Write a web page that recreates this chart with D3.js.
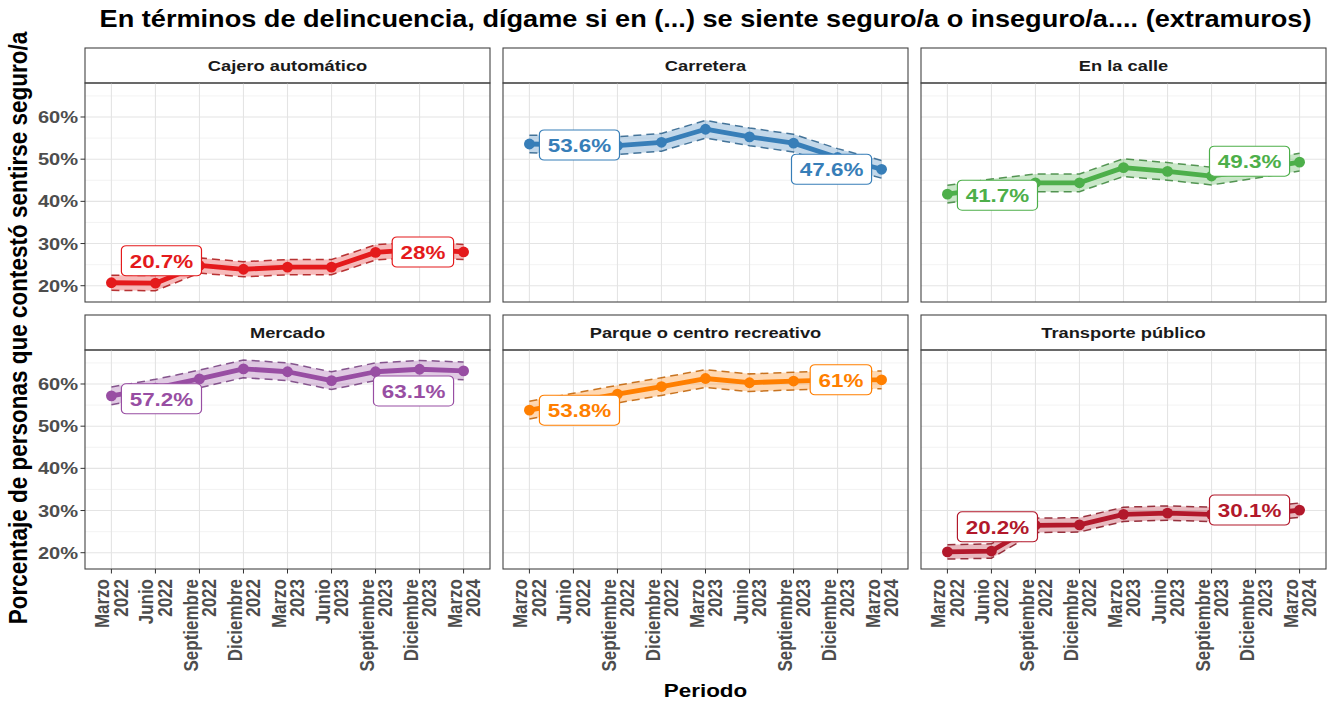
<!DOCTYPE html>
<html>
<head>
<meta charset="utf-8">
<script src="https://cdn.jsdelivr.net/npm/d3@7"></script>
<style>
  body { margin: 0; background: #fff; }
  svg { display: block; }
  text { font-family: "Liberation Sans", Arial, Helvetica, sans-serif; font-weight: bold; }
</style>
</head>
<body>
<svg id="chart" width="1327" height="704"></svg>
<script>
// Survey periods (quarterly)
const months = ["Marzo", "Junio", "Septiembre", "Diciembre", "Marzo", "Junio", "Septiembre", "Diciembre", "Marzo"];
const years  = ["2022", "2022", "2022", "2022", "2023", "2023", "2023", "2023", "2024"];

// Places asked about
const places = ["Cajero automático", "Carretera", "En la calle", "Mercado", "Parque o centro recreativo", "Transporte público"];

// Percentage answering "seguro/a" per period
const cajero     = [20.7, 20.6, 24.8, 23.9, 24.4, 24.4, 27.9, 28.6, 28.0];
const carretera  = [53.6, 53.4, 53.2, 54.0, 57.1, 55.3, 53.8, 50.4, 47.6];
const calle      = [41.7, 43.2, 44.4, 44.4, 48.0, 47.1, 46.0, 47.6, 49.3];
const mercado    = [57.2, 59.0, 61.2, 63.6, 62.9, 60.8, 62.9, 63.5, 63.1];
const parque     = [53.8, 55.7, 57.6, 59.4, 61.3, 60.3, 60.7, 61.0, 61.0];
const transporte = [20.2, 20.4, 26.5, 26.6, 29.1, 29.4, 29.1, 29.0, 30.1];

// Margin of error (percentage points) of each place's estimates
const moe = [1.8, 2.1, 2.1, 2.1, 2.1, 1.7];

const yTicks = [20, 30, 40, 50, 60];
const yMinor = [25, 35, 45, 55, 65];

const colors = ["#E41A1C", "#377EB8", "#4DAF4A", "#984EA3", "#FF7F00", "#B2182B"];

const series = [cajero, carretera, calle, mercado, parque, transporte];
const periods = months.map((m, i) => m + " " + years[i]);

// ---- layout ----
const W = 1327, H = 704;
const SX = 1.18;                 // horizontal text stretch
const mLeft = 85, mRight = 1, gapX = 13;
const mTop = 48, stripH = 35, plotH = 219, gapY = 13;
const panelW = (W - mLeft - mRight - 2 * gapX) / 3;

// label nudges (px): [first label dy, last label dy]
const labelNudge = [[-22, 0], [1, 0], [1, -1], [3, 20], [0, 0], [-25, 0]];

const svg = d3.select("#chart");

// shared scales
const lows  = series.flatMap((s, i) => s.map(v => v - moe[i]));
const highs = series.flatMap((s, i) => s.map(v => v + moe[i]));
const lo = d3.min(lows), hi = d3.max(highs), pad = (hi - lo) * 0.05;
const y = d3.scaleLinear().domain([lo - pad, hi + pad]).range([plotH, 0]);
const x = d3.scalePoint().domain(periods).range([0, panelW]).padding(0.6);

function sText(parent, tx, ty, str, opts = {}) {
  const g = parent.append("g")
    .attr("transform", `translate(${tx},${ty}) scale(${SX},1)` + (opts.rotate ? " rotate(-90)" : ""));
  const t = g.append("text")
    .attr("text-anchor", opts.anchor || "middle")
    .attr("font-size", opts.size || 16)
    .attr("fill", opts.color || "#000");
  if (opts.dy) t.attr("dy", opts.dy);
  t.text(str);
  return { g, t };
}

const pct = v => (Math.round(v * 10) / 10) + "%";

places.forEach((place, i) => {
  const col = i % 3, row = Math.floor(i / 3);
  const px0 = mLeft + col * (panelW + gapX);
  const sy0 = mTop + row * (stripH + plotH + gapY);
  const py0 = sy0 + stripH;
  const color = colors[i];
  const vals = series[i];
  const m = moe[i];

  // strip
  svg.append("rect").attr("x", px0).attr("y", sy0).attr("width", panelW).attr("height", stripH)
    .attr("fill", "#fff").attr("stroke", "#444").attr("stroke-width", 1.1);
  sText(svg, px0 + panelW / 2, sy0 + stripH / 2, place, { size: 15.5, color: "#1a1a1a", dy: "0.36em" });

  const g = svg.append("g").attr("transform", `translate(${px0},${py0})`);

  // grid
  g.selectAll(".ymin").data(yMinor.filter(v => v >= y.domain()[0] && v <= y.domain()[1])).join("line")
    .attr("x1", 0).attr("x2", panelW).attr("y1", d => y(d)).attr("y2", d => y(d))
    .attr("stroke", "#f0f0f0").attr("stroke-width", 0.8);
  g.selectAll(".ymaj").data(yTicks).join("line")
    .attr("x1", 0).attr("x2", panelW).attr("y1", d => y(d)).attr("y2", d => y(d))
    .attr("stroke", "#e4e4e4").attr("stroke-width", 1.1);
  g.selectAll(".xmaj").data(periods).join("line")
    .attr("x1", d => x(d)).attr("x2", d => x(d)).attr("y1", 0).attr("y2", plotH)
    .attr("stroke", "#e4e4e4").attr("stroke-width", 1.1);

  const pts = vals.map((v, j) => ({ p: periods[j], v, lo: v - m, hi: v + m }));

  // confidence band
  g.append("path").datum(pts)
    .attr("d", d3.area().x(d => x(d.p)).y0(d => y(d.lo)).y1(d => y(d.hi)))
    .attr("fill", color).attr("fill-opacity", 0.3);
  const dashCol = d3.color(color).darker(0.8).formatHex();
  ["lo", "hi"].forEach(k => {
    g.append("path").datum(pts)
      .attr("d", d3.line().x(d => x(d.p)).y(d => y(d[k])))
      .attr("fill", "none").attr("stroke", dashCol).attr("stroke-opacity", 0.85)
      .attr("stroke-width", 1.5).attr("stroke-dasharray", "8,5");
  });

  // main line and points
  g.append("path").datum(pts)
    .attr("d", d3.line().x(d => x(d.p)).y(d => y(d.v)))
    .attr("fill", "none").attr("stroke", color).attr("stroke-width", 4.8).attr("stroke-linejoin", "round");
  g.selectAll(".pt").data(pts).join("circle")
    .attr("cx", d => x(d.p)).attr("cy", d => y(d.v)).attr("r", 5.4).attr("fill", color);

  // first / last value labels
  [0, vals.length - 1].forEach((j, k) => {
    const d = pts[j];
    const lab = g.append("g");
    const inner = lab.append("g");
    const t = inner.append("text").attr("text-anchor", "middle").attr("font-size", 19)
      .attr("fill", color).attr("dy", "0.36em").text(pct(d.v));
    const tw = t.node().getComputedTextLength();
    const bw = tw + 14, bh = 30;
    inner.insert("rect", "text").attr("x", -bw / 2).attr("y", -bh / 2).attr("width", bw).attr("height", bh)
      .attr("rx", 4).attr("fill", "#fff").attr("stroke", color).attr("stroke-width", 1);
    const half = bw * SX / 2;
    const cx = k === 0 ? x(d.p) + 10 + half : x(d.p) - 10 - half;
    const cy = y(d.v) + labelNudge[i][k];
    lab.attr("transform", `translate(${cx},${cy}) scale(${SX},1)`);
  });

  // panel border
  svg.append("rect").attr("x", px0).attr("y", py0).attr("width", panelW).attr("height", plotH)
    .attr("fill", "none").attr("stroke", "#444").attr("stroke-width", 1.1);

  // y axis on left column
  if (col === 0) {
    yTicks.forEach(v => {
      svg.append("line").attr("x1", px0 - 4.5).attr("x2", px0).attr("y1", py0 + y(v)).attr("y2", py0 + y(v))
        .attr("stroke", "#333").attr("stroke-width", 1);
      sText(svg, px0 - 7, py0 + y(v), v + "%", { anchor: "end", size: 17, color: "#4d4d4d", dy: "0.36em" });
    });
  }

  // x axis on bottom row
  if (row === 1) {
    periods.forEach((p, j) => {
      const tx = px0 + x(p);
      svg.append("line").attr("x1", tx).attr("x2", tx).attr("y1", py0 + plotH).attr("y2", py0 + plotH + 4.5)
        .attr("stroke", "#333").attr("stroke-width", 1);
      const g2 = svg.append("g")
        .attr("transform", `translate(${tx},${py0 + plotH + 10}) scale(${SX},1) rotate(-90)`);
      const t = g2.append("text").attr("text-anchor", "end").attr("font-size", 17).attr("fill", "#4d4d4d");
      t.append("tspan").attr("x", 0).attr("y", -7.65 + 6).text(months[j]);
      t.append("tspan").attr("x", 0).attr("y", 7.65 + 6).text(years[j]);
    });
  }
});

// titles
const plotCenter = mLeft + (W - mLeft - mRight) / 2;
sText(svg, plotCenter, 27, "En términos de delincuencia, dígame si en (...) se siente seguro/a o inseguro/a.... (extramuros)",
  { size: 23, color: "#000" });
sText(svg, plotCenter, 697, "Periodo", { size: 19, color: "#000" });
sText(svg, 27, 328, "Porcentaje de personas que contestó sentirse seguro/a", { size: 22.5, color: "#000", rotate: true });
</script>
</body>
</html>
